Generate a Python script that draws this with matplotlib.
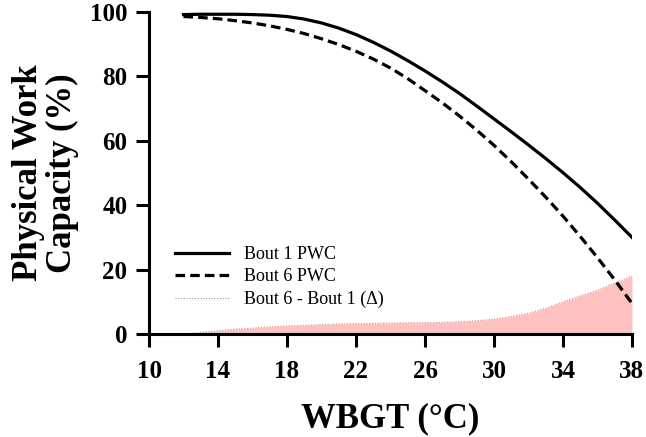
import numpy as np
import matplotlib
matplotlib.use('Agg')
from matplotlib import pyplot as plt

wbgt = list(range(12, 39))
bout1 = [99.2, 99.3, 99.3, 99.3, 99.2, 99.0, 98.6, 97.8, 96.6, 95.0, 93.0, 90.6, 87.9,
         84.9, 81.7, 78.3, 74.7, 70.8, 66.8, 62.8, 58.7, 54.5, 50.1, 45.5, 40.6, 35.4, 30.0]
bout6 = [98.6, 98.3, 97.9, 97.3, 96.6, 95.7, 94.6, 93.3, 91.7, 89.9, 87.8, 85.4, 82.6,
         79.3, 75.6, 71.8, 67.7, 63.3, 58.6, 53.5, 48.1, 42.5, 36.6, 30.3, 23.7, 16.8, 9.5]
delta = [0.0, 0.5, 1.0, 1.5, 1.8, 2.2, 2.5, 2.7, 2.9, 3.1, 3.2, 3.3, 3.4,
         3.5, 3.5, 3.6, 3.8, 4.1, 4.6, 5.4, 6.4, 8.0, 10.0, 11.8, 13.6, 15.8, 18.0]

plt.rcParams['font.family'] = ['Liberation Serif', 'DejaVu Serif']
fig = plt.figure(figsize=(6.46, 4.37), dpi=100)
ax = fig.add_axes([149/646, 1-334/437, (632-149)/646, (334-12)/437])

ax.fill_between(wbgt, 0, delta, color='#ffc0c0', lw=0)
ax.plot(wbgt, delta, color='#999999', lw=0.8, ls=(0, (1, 1.5)), label='Bout 6 - Bout 1 (Δ)')
ax.plot(wbgt, bout1, color='black', lw=2.3, label='Bout 1 PWC')
ax.plot(wbgt, bout6, color='black', lw=2.3, ls=(0, (3, 1.6)), label='Bout 6 PWC')

ax.set_xlim(10, 38)
ax.set_ylim(0, 100)
ax.set_xticks(range(10, 39, 4))
ax.set_yticks(range(0, 101, 20))
for s in ['top', 'right']:
    ax.spines[s].set_visible(False)
for s in ['left', 'bottom']:
    ax.spines[s].set_linewidth(2.2)
ax.tick_params(width=2.2, length=9.5, labelsize=18, pad=6)
ax.tick_params(axis='x', pad=9)
for t in ax.get_xticklabels() + ax.get_yticklabels():
    t.set_fontweight('bold')
ax.set_xlabel('WBGT (°C)', fontsize=25, fontweight='bold', labelpad=14)
ax.set_ylabel('Physical Work\nCapacity (%)', fontsize=25, fontweight='bold', labelpad=8, linespacing=1.05)

h, l = ax.get_legend_handles_labels()
ax.legend([h[1], h[2], h[0]], [l[1], l[2], l[0]], loc='lower left', bbox_to_anchor=(0.02, 0.03),
          frameon=False, fontsize=13, handlelength=3, labelspacing=0.3)

fig.savefig('out.png', dpi=100)
